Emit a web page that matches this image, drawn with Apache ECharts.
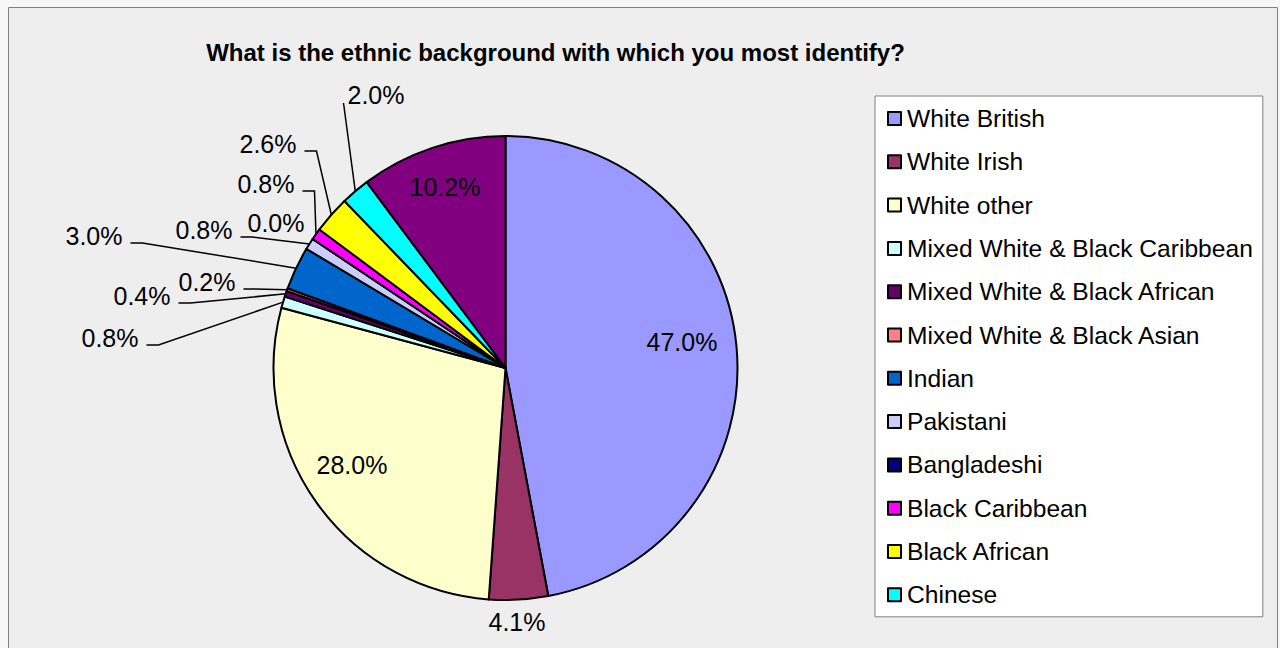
<!DOCTYPE html>
<html>
<head>
<meta charset="utf-8">
<style>
  html, body { margin: 0; padding: 0; background: #F7F7F7; }
  #chart { width: 1280px; height: 648px; }
</style>
<script src="https://cdn.jsdelivr.net/npm/echarts@6/dist/echarts.min.js"></script>
</head>
<body>
<div id="chart"></div>
<script>
const titleText = 'What is the ethnic background with which you most identify?';
const categories = ['White British', 'White Irish', 'White other', 'Mixed White & Black Caribbean',
  'Mixed White & Black African', 'Mixed White & Black Asian', 'Indian', 'Pakistani',
  'Bangladeshi', 'Black Caribbean', 'Black African', 'Chinese', 'Other'];
const values = [47.0, 4.1, 28.0, 0.8, 0.4, 0.2, 3.0, 0.8, 0.0, 0.8, 2.6, 2.0, 10.2];
const colors = ['#9999FF', '#993366', '#FFFFCC', '#CCFFFF', '#660066', '#FF8080', '#0066CC',
  '#CCCCFF', '#000080', '#FF00FF', '#FFFF00', '#00FFFF', '#800080'];
const legendNames = categories.slice(0, 12);

// label placement (layout only)
const labelPos = [[682, 342], [517, 622], [352, 465], [110, 338], [142, 296], [207, 282],
  [94, 236], [204, 230], [276, 223], [266, 184], [268, 144], [376, 95], [445, 187]];
const lineSide = [null, null, null, 'r', 'r', 'r', 'r', 'r', null, 'r', 'r', 'l', null];

const CX = 505.5, CY = 368, R = 232;
const FONT = "'Liberation Sans', Arial, sans-serif";

const total = values.reduce((a, b) => a + b, 0);

const data = categories.map((n, i) => {
  const item = { name: n, value: values[i], itemStyle: { color: colors[i] } };
  if (!lineSide[i]) item.labelLine = { show: false };
  return item;
});

const chart = echarts.init(document.getElementById('chart'), null, { renderer: 'svg' });
chart.setOption({
  backgroundColor: '#F7F7F7',
  animation: false,
  graphic: [
    { type: 'rect', z: -10, shape: { x: 8.5, y: 7.5, width: 1269, height: 700 },
      style: { fill: '#EEEEEE', stroke: '#808080', lineWidth: 1 } },
    { type: 'text', z: 10, x: 555.5, y: 52,
      style: { text: titleText, align: 'center', verticalAlign: 'middle',
        font: "bold 24px 'Liberation Sans', Arial, sans-serif", fill: '#000' } }
  ],
  legend: {
    data: legendNames,
    orient: 'vertical',
    left: 875,
    top: 96,
    itemWidth: 13,
    itemHeight: 13,
    itemGap: 18.3,
    backgroundColor: '#FFFFFF',
    borderColor: '#808080',
    borderWidth: 1,
    borderRadius: 0,
    padding: [10, 10, 9.5, 12],
    icon: 'rect',
    itemStyle: { borderColor: '#000', borderWidth: 2 },
    textStyle: { fontFamily: FONT, fontSize: 24.6, lineHeight: 24, color: '#000', padding: [0, 0, 0, 1] },
    selectedMode: false
  },
  series: [{
    type: 'pie',
    center: [CX, CY],
    radius: R,
    startAngle: 90,
    clockwise: true,
    avoidLabelOverlap: false,
    itemStyle: { borderColor: '#000', borderWidth: 2 },
    emphasis: { disabled: true },
    label: {
      show: true,
      position: 'outside',
      fontFamily: FONT,
      fontSize: 25,
      color: '#000',
      formatter: p => p.value.toFixed(1) + '%'
    },
    labelLine: { show: true, length: 10, length2: 10, lineStyle: { color: '#000', width: 1.5 } },
    labelLayout: function (p) {
      const i = p.dataIndex;
      const pos = labelPos[i];
      const w = p.labelRect.width;
      const res = { x: pos[0], y: pos[1], align: 'center', verticalAlign: 'middle' };
      if (lineSide[i]) {
        let cum = 0;
        for (let k = 0; k < i; k++) cum += values[k];
        const mid = (cum + values[i] / 2) / total * Math.PI * 2;
        const a = [CX + R * Math.sin(mid), CY - R * Math.cos(mid)];
        let end, bend;
        if (lineSide[i] === 'r') {
          end = [pos[0] + w / 2 + 8, pos[1] + 7];
          bend = [end[0] + 12, end[1]];
        } else {
          end = [pos[0] - w / 2 - 4, pos[1] + 8];
          bend = end.slice();
        }
        res.labelLinePoints = [a, bend, end];
      }
      return res;
    },
    data: data
  }]
});
</script>
</body>
</html>
